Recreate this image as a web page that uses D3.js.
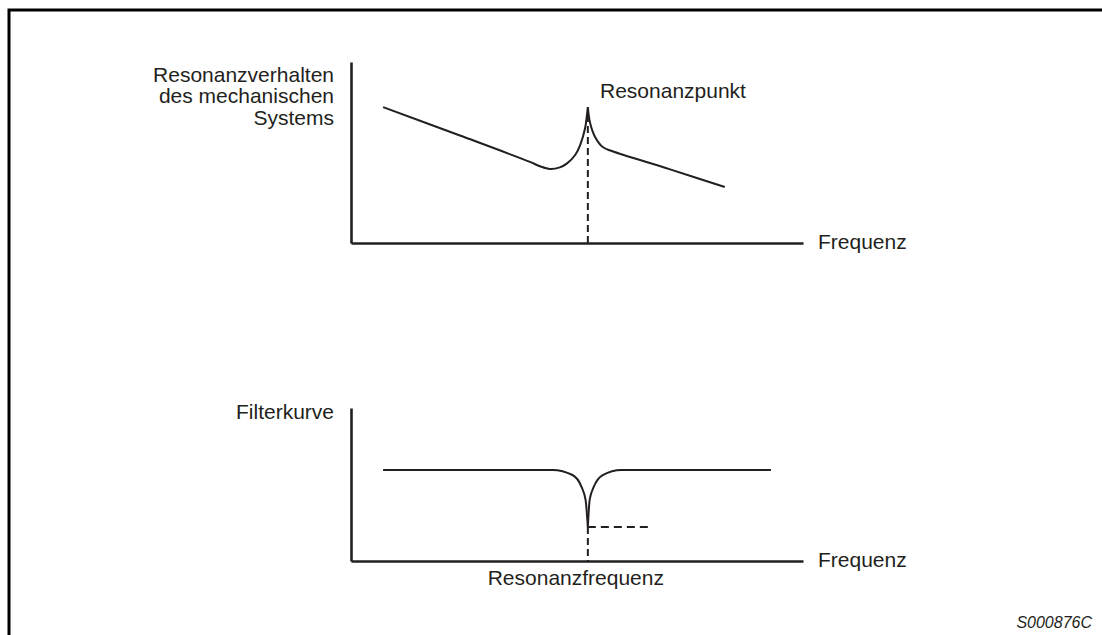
<!DOCTYPE html>
<html>
<head>
<meta charset="utf-8">
<script src="https://cdn.jsdelivr.net/npm/d3@7"></script>
<style>
  html, body { margin: 0; padding: 0; background: #fff; }
  svg { display: block; }
  text { font-family: "Liberation Sans", Arial, Helvetica, sans-serif; fill: #231f20; }
</style>
</head>
<body>
<svg id="chart" width="1102" height="635"></svg>
<script>
// Frequency response of the mechanical system: left branch up to the resonance peak, right branch after it
const resonanceLeft = [[7.1, 75.1], [24.1, 59.4], [39.6, 44.8], [41.8, 42.4], [44.0, 40.9], [46.2, 41.8], [47.8, 44.0], [49.6, 48.6], [50.7, 54.1], [51.8, 63.5], [52.2, 70.7], [52.4, 75.1]];
const resonanceRight = [[52.4, 75.1], [52.9, 66.3], [54.0, 58.6], [55.7, 53.0], [57.7, 50.8], [70.6, 40.7], [82.7, 30.9]];

// Notch filter curve: flat level with a sharp dip at the resonance frequency
const filterLeft = [[7.1, 59.5], [44.6, 59.5], [49.0, 56.2], [51.0, 48.4], [51.9, 39.9], [52.4, 22.2]];
const filterRight = [[52.4, 22.2], [52.8, 39.9], [53.7, 48.4], [55.7, 56.2], [59.8, 59.5], [92.9, 59.5]];

// Marker values
const resonanceFreq = 52.4;
const peakLevel = 75.1;
const notchDepth = 22.2;
const notchMarkerEnd = 66.1;

// Labels
const topYLabel = ["Resonanzverhalten", "des mechanischen", "Systems"];
const bottomYLabel = ["Filterkurve"];
const xLabel = "Frequenz";
const peakLabel = "Resonanzpunkt";
const freqLabel = "Resonanzfrequenz";
const figureId = "S000876C";

const svg = d3.select("#chart");
const ink = "#231f20";

// outer frame (top and left edges)
svg.append("path")
  .attr("d", "M1102,10 H9 V635")
  .attr("fill", "none").attr("stroke", "#000").attr("stroke-width", 3);

const x = d3.scaleLinear().domain([0, 100]).range([351, 803]);
const yTop = d3.scaleLinear().domain([0, 100]).range([243, 62]);
const yBot = d3.scaleLinear().domain([0, 100]).range([561, 408]);

function drawPanel(y, branches, curve, yLabelLines, labelBaseline) {
  const g = svg.append("g");
  // bare axes without ticks
  g.append("g").attr("transform", `translate(0,${y(0)})`)
    .call(d3.axisBottom(x).tickValues([]).tickSizeOuter(0))
    .call(s => s.select(".domain").attr("stroke", ink).attr("stroke-width", 2.6));
  g.append("g").attr("transform", `translate(${x(0)},0)`)
    .call(d3.axisLeft(y).tickValues([]).tickSizeOuter(0))
    .call(s => s.select(".domain").attr("stroke", ink).attr("stroke-width", 2.6));

  const line = d3.line().x(d => x(d[0])).y(d => y(d[1])).curve(curve);
  branches.forEach(b => {
    g.append("path").datum(b).attr("d", line)
      .attr("fill", "none").attr("stroke", ink).attr("stroke-width", 2)
      .attr("stroke-linejoin", "round");
  });

  g.append("text").attr("x", 818).attr("y", y(0) + 6)
    .attr("font-size", 21).text(xLabel);

  const t = g.append("text").attr("text-anchor", "end").attr("font-size", 21);
  yLabelLines.forEach((s, i) => {
    t.append("tspan").attr("x", 334).attr("y", labelBaseline + i * 21.8).text(s);
  });
  return g;
}

const upperPanel = drawPanel(yTop, [resonanceLeft, resonanceRight], d3.curveCatmullRom.alpha(0.5), topYLabel, 81.5);
upperPanel.append("line")
  .attr("x1", x(resonanceFreq)).attr("x2", x(resonanceFreq))
  .attr("y1", yTop(peakLevel) + 8).attr("y2", yTop(0))
  .attr("stroke", ink).attr("stroke-width", 2).attr("stroke-dasharray", "7,4");
upperPanel.append("text").attr("x", 600).attr("y", 98).attr("font-size", 21).text(peakLabel);

const lowerPanel = drawPanel(yBot, [filterLeft, filterRight], d3.curveMonotoneX, bottomYLabel, 419);
lowerPanel.append("line")
  .attr("x1", x(resonanceFreq)).attr("x2", x(resonanceFreq))
  .attr("y1", yBot(notchDepth)).attr("y2", yBot(0))
  .attr("stroke", ink).attr("stroke-width", 2).attr("stroke-dasharray", "7,4");
lowerPanel.append("line")
  .attr("x1", x(resonanceFreq)).attr("x2", x(notchMarkerEnd))
  .attr("y1", yBot(notchDepth)).attr("y2", yBot(notchDepth))
  .attr("stroke", ink).attr("stroke-width", 2).attr("stroke-dasharray", "8,5");
lowerPanel.append("text").attr("x", x(resonanceFreq) - 12).attr("y", 585)
  .attr("text-anchor", "middle").attr("font-size", 21).text(freqLabel);

svg.append("text").attr("x", 1092).attr("y", 628)
  .attr("text-anchor", "end").attr("font-size", 16).attr("font-style", "italic")
  .text(figureId);
</script>
</body>
</html>
